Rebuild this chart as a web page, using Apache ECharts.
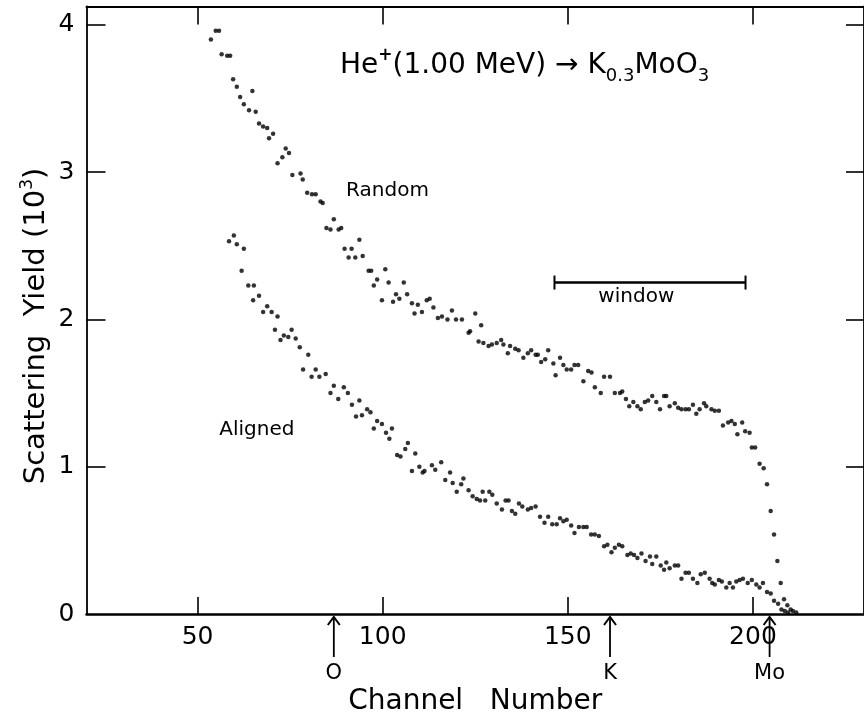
<!DOCTYPE html>
<html>
<head>
<meta charset="utf-8">
<script src="https://cdn.jsdelivr.net/npm/echarts@6/dist/echarts.min.js"></script>
<style>html,body{margin:0;padding:0;background:#fff;}#c{width:864px;height:722px;}</style>
</head>
<body>
<div id="c"></div>
<script>
// ---- data ----
const xTicks = [50, 100, 150, 200];
const yTicks = [1, 2, 3, 4];
const yLabels = [0, 1, 2, 3, 4];

// Random spectrum: [channel, yield (10^3)]
const randomData = [
[53.6,3.90],[54.9,3.96],[55.8,3.96],[56.5,3.80],[58.0,3.79],[58.8,3.79],[59.6,3.63],[60.6,3.58],[61.5,3.51],[62.5,3.46],
[63.9,3.42],[64.8,3.55],[65.7,3.41],[66.6,3.33],[67.7,3.31],[68.8,3.30],[69.3,3.23],[70.4,3.26],[71.6,3.06],[72.9,3.10],
[73.8,3.16],[74.7,3.13],[75.6,2.98],[77.8,2.99],[78.4,2.95],[79.6,2.86],[80.9,2.85],[81.9,2.85],[83.2,2.80],[83.8,2.79],
[84.8,2.62],[85.9,2.61],[86.8,2.68],[88.1,2.61],[88.8,2.62],[89.7,2.48],[90.8,2.42],[91.6,2.48],[92.6,2.42],[93.7,2.54],
[94.6,2.43],[96.2,2.33],[96.9,2.33],[97.6,2.23],[98.5,2.27],[99.8,2.13],[100.7,2.34],[101.6,2.25],[102.8,2.12],[103.6,2.17],
[104.5,2.14],[105.7,2.25],[106.6,2.17],[107.9,2.11],[108.6,2.04],[109.5,2.10],[110.6,2.05],[111.9,2.13],[112.7,2.14],[113.7,2.08],
[114.9,2.01],[116.0,2.02],[117.5,2.00],[118.7,2.06],[119.8,2.00],[121.4,2.00],[123.2,1.91],[123.6,1.92],[125.0,2.04],[125.9,1.85],
[126.6,1.96],[127.2,1.84],[128.6,1.82],[129.5,1.83],[130.8,1.84],[132.0,1.86],[132.6,1.83],[133.8,1.77],[134.4,1.82],[135.8,1.80],
[136.7,1.79],[138.0,1.74],[139.2,1.77],[140.1,1.79],[141.3,1.76],[141.9,1.76],[142.8,1.71],[143.9,1.73],[144.7,1.79],[146.1,1.70],
[146.7,1.62],[147.9,1.74],[148.8,1.69],[149.7,1.66],[150.9,1.66],[151.8,1.69],[152.8,1.69],[154.2,1.58],[155.5,1.65],[156.4,1.64],
[157.3,1.54],[158.9,1.50],[159.8,1.61],[161.4,1.61],[162.7,1.50],[164.1,1.50],[164.7,1.51],[165.7,1.46],[166.6,1.41],[167.7,1.44],
[168.8,1.41],[169.7,1.39],[170.8,1.44],[171.7,1.45],[172.8,1.48],[173.9,1.44],[174.9,1.39],[176.0,1.48],[176.6,1.48],[177.5,1.41],
[178.9,1.43],[179.8,1.40],[180.7,1.39],[181.8,1.39],[182.7,1.39],[183.8,1.42],[184.7,1.36],[185.6,1.39],[186.8,1.43],[187.4,1.41],
[188.8,1.39],[189.7,1.38],[190.8,1.38],[191.9,1.28],[193.3,1.30],[194.2,1.31],[195.1,1.29],[195.8,1.22],[197.1,1.30],[197.9,1.24],
[199.1,1.23],[199.7,1.13],[200.6,1.13],[201.8,1.02],[202.9,0.99],[203.8,0.88],[204.8,0.70],[205.7,0.54],[206.6,0.36],[207.5,0.21],
[208.4,0.10],[209.3,0.06],[210.2,0.03],[210.8,0.02],[211.7,0.01]
];

// Aligned spectrum: [channel, yield (10^3)]
const alignedData = [
[58.5,2.53],[59.8,2.57],[60.6,2.51],[61.9,2.33],[62.5,2.48],[63.7,2.23],[65.0,2.13],[65.2,2.23],[66.6,2.16],[67.7,2.05],
[68.8,2.09],[70.0,2.05],[70.9,1.93],[71.6,2.02],[72.4,1.86],[73.3,1.89],[74.5,1.88],[75.4,1.93],[76.5,1.87],[77.6,1.81],
[78.5,1.66],[79.9,1.76],[80.8,1.61],[81.9,1.66],[82.9,1.61],[84.6,1.63],[85.9,1.50],[86.8,1.55],[88.0,1.46],[89.5,1.54],
[90.6,1.50],[91.7,1.42],[92.8,1.34],[93.7,1.45],[94.4,1.35],[95.8,1.39],[96.7,1.37],[97.6,1.26],[98.5,1.31],[99.8,1.29],
[100.9,1.23],[101.8,1.19],[102.5,1.26],[103.9,1.08],[104.8,1.07],[106.1,1.12],[106.8,1.16],[107.9,0.97],[108.8,1.09],[109.9,1.00],
[110.8,0.96],[111.3,0.97],[113.3,1.01],[114.2,0.98],[115.8,1.03],[116.9,0.91],[118.2,0.96],[118.9,0.89],[120.0,0.83],[121.2,0.88],
[121.8,0.92],[123.2,0.84],[124.3,0.80],[125.4,0.78],[126.3,0.77],[127.0,0.83],[127.7,0.77],[128.8,0.83],[129.6,0.81],[130.8,0.75],
[132.2,0.71],[133.2,0.77],[134.0,0.77],[134.9,0.70],[135.8,0.68],[136.8,0.75],[137.7,0.73],[139.2,0.71],[140.1,0.72],[141.3,0.73],
[142.5,0.66],[143.7,0.62],[144.7,0.66],[145.8,0.61],[147.0,0.61],[147.9,0.65],[148.8,0.63],[149.7,0.64],[150.9,0.60],[151.8,0.55],
[153.0,0.59],[154.2,0.59],[155.1,0.59],[156.3,0.54],[157.3,0.54],[158.4,0.53],[159.8,0.46],[160.7,0.47],[161.8,0.42],[162.7,0.45],
[163.8,0.47],[164.7,0.46],[166.1,0.40],[167.0,0.41],[167.9,0.40],[168.8,0.38],[169.9,0.41],[171.0,0.36],[172.2,0.39],[172.8,0.34],
[173.9,0.39],[175.1,0.33],[176.0,0.30],[176.6,0.35],[177.5,0.31],[178.9,0.33],[179.8,0.33],[180.7,0.24],[181.8,0.28],[182.7,0.28],
[183.8,0.24],[185.0,0.21],[185.9,0.27],[187.0,0.28],[188.3,0.24],[189.0,0.21],[189.7,0.20],[190.8,0.23],[191.6,0.22],[192.8,0.18],
[193.7,0.21],[194.6,0.18],[195.5,0.22],[196.4,0.23],[197.3,0.24],[198.6,0.21],[199.7,0.23],[200.9,0.20],[201.8,0.18],[202.7,0.21],
[203.8,0.15],[204.8,0.14],[205.7,0.09],[206.8,0.07],[207.7,0.03],[208.6,0.02],[209.5,0.01]
];

// edge markers below the axis
const edgeChannels = [86.8, 161.4, 204.5];
const edgeLabels = ['O', 'K', 'Mo'];

// energy window bracket
const windowRange = [146.4, 198.0];
const windowLevel = 2.25;

// in-plot text labels
const noteTexts = ['Random', 'Aligned', 'window'];
const noteChannels = [101.3, 66.0, 168.5];
const noteValues = [2.87, 1.25, 2.15];

const FONT = 'DejaVu Sans';
const chart = echarts.init(document.getElementById('c'));

const axisCommon = {
  type: 'value', min: 20, max: 230,
  splitLine: { show: false },
  axisLine: { show: true, onZero: false, lineStyle: { color: '#000', width: 2 } },
};
const yCommon = {
  type: 'value', min: 0, max: 4.124,
  splitLine: { show: false },
  axisLine: { show: true, onZero: false, lineStyle: { color: '#000', width: 1.8 } },
};

chart.setOption({
  animation: false,
  backgroundColor: '#fff',
  title: {
    left: 335, top: 42,
    text: '{a|He}{sup|+}{a|(1.00 MeV) → K}{sub|0.3}{a|MoO}{sub|3}',
    textStyle: {
      fontWeight: 'normal',
      rich: {
        a: { fontFamily: FONT, fontSize: 28, fontWeight: 'normal', lineHeight: 38, color: '#000', verticalAlign: 'middle' },
        sup: { fontFamily: FONT, fontSize: 17, fontWeight: 'bold', lineHeight: 20, color: '#000', verticalAlign: 'top' },
        sub: { fontFamily: FONT, fontSize: 18, fontWeight: 'normal', lineHeight: 16, color: '#000', verticalAlign: 'bottom' }
      }
    }
  },
  graphic: [
    {
      type: 'text', x: 36, y: 326, rotation: Math.PI / 2, silent: true,
      style: {
        text: 'Scattering  Yield {a|(10}{sup|3}{a|)}',
        align: 'center', verticalAlign: 'middle',
        font: '29px "DejaVu Sans"', fill: '#000',
        rich: {
          a: { fontFamily: FONT, fontSize: 29, fill: '#000', lineHeight: 34, verticalAlign: 'middle' },
          sup: { fontFamily: FONT, fontSize: 17, fill: '#000', verticalAlign: 'top', lineHeight: 14 }
        }
      }
    }
  ],
  grid: { left: 86.5, right: -2, top: 6.5, bottom: 108 },
  xAxis: [
    Object.assign({}, axisCommon, {
      position: 'bottom',
      axisLine: { show: true, onZero: false, lineStyle: { color: '#000', width: 2.5 } },
      axisTick: { show: true, inside: true, length: 17, customValues: xTicks, lineStyle: { color: '#000', width: 1.6 } },
      axisLabel: { show: true, customValues: xTicks, fontFamily: FONT, fontSize: 25, color: '#000', margin: 11 },
      name: 'Channel   Number', nameLocation: 'middle', nameGap: 74,
      nameTextStyle: { fontFamily: FONT, fontSize: 28, color: '#000' }
    }),
    Object.assign({}, axisCommon, {
      position: 'top',
      axisTick: { show: true, inside: true, length: 18, customValues: xTicks, lineStyle: { color: '#000', width: 1.6 } },
      axisLabel: { show: false }
    })
  ],
  yAxis: [
    Object.assign({}, yCommon, {
      position: 'left',
      axisTick: { show: true, inside: true, length: 19, customValues: yTicks, lineStyle: { color: '#000', width: 1.6 } },
      axisLabel: { show: true, customValues: yLabels, fontFamily: FONT, fontSize: 25, color: '#000', margin: 12 }
    }),
    Object.assign({}, yCommon, {
      position: 'right',
      axisTick: { show: true, inside: true, length: 18, customValues: yTicks, lineStyle: { color: '#000', width: 1.6 } },
      axisLabel: { show: false }
    })
  ],
  series: [
    {
      name: 'Random', type: 'scatter', xAxisIndex: 0, yAxisIndex: 0,
      data: randomData, symbol: 'circle', symbolSize: 4.5,
      itemStyle: { color: '#000' }, silent: true
    },
    {
      name: 'Aligned', type: 'scatter', xAxisIndex: 0, yAxisIndex: 0,
      data: alignedData, symbol: 'circle', symbolSize: 4.5,
      itemStyle: { color: '#000' }, silent: true
    },
    {
      name: 'edges', type: 'custom', xAxisIndex: 0, yAxisIndex: 0, clip: false, silent: true,
      data: edgeChannels.map((c, i) => [c, i]),
      encode: { x: 0 },
      renderItem: function (params, api) {
        const p = api.coord([api.value(0), 0]);
        const x = p[0], y = p[1];
        const label = edgeLabels[api.value(1)];
        return {
          type: 'group', children: [
            { type: 'line', shape: { x1: x, y1: y + 3, x2: x, y2: y + 43 }, style: { stroke: '#000', lineWidth: 1.8 } },
            { type: 'polyline', shape: { points: [[x - 6, y + 11], [x, y + 3], [x + 6, y + 11]] }, style: { stroke: '#000', lineWidth: 2, fill: null } },
            { type: 'text', style: { text: label, x: x, y: y + 60, align: 'center', verticalAlign: 'middle', font: '21px "DejaVu Sans"', fill: '#000' } }
          ]
        };
      }
    },
    {
      name: 'window', type: 'custom', xAxisIndex: 0, yAxisIndex: 0, silent: true,
      data: [[windowRange[0], windowRange[1], windowLevel]],
      encode: { x: [0, 1], y: 2 },
      renderItem: function (params, api) {
        const p1 = api.coord([api.value(0), api.value(2)]);
        const p2 = api.coord([api.value(1), api.value(2)]);
        return {
          type: 'group', children: [
            { type: 'line', shape: { x1: p1[0], y1: p1[1], x2: p2[0], y2: p2[1] }, style: { stroke: '#000', lineWidth: 2.5 } },
            { type: 'line', shape: { x1: p1[0], y1: p1[1] - 7, x2: p1[0], y2: p1[1] + 7 }, style: { stroke: '#000', lineWidth: 2 } },
            { type: 'line', shape: { x1: p2[0], y1: p2[1] - 7, x2: p2[0], y2: p2[1] + 7 }, style: { stroke: '#000', lineWidth: 2 } }
          ]
        };
      }
    },
    {
      name: 'notes', type: 'custom', xAxisIndex: 0, yAxisIndex: 0, silent: true,
      data: noteTexts.map((t, i) => [noteChannels[i], noteValues[i], i]),
      renderItem: function (params, api) {
        const p = api.coord([api.value(0), api.value(1)]);
        return {
          type: 'text', style: { text: noteTexts[api.value(2)], x: p[0], y: p[1], align: 'center', verticalAlign: 'middle', font: '20px "DejaVu Sans"', fill: '#000' }
        };
      }
    }
  ]
});
</script>
</body>
</html>
